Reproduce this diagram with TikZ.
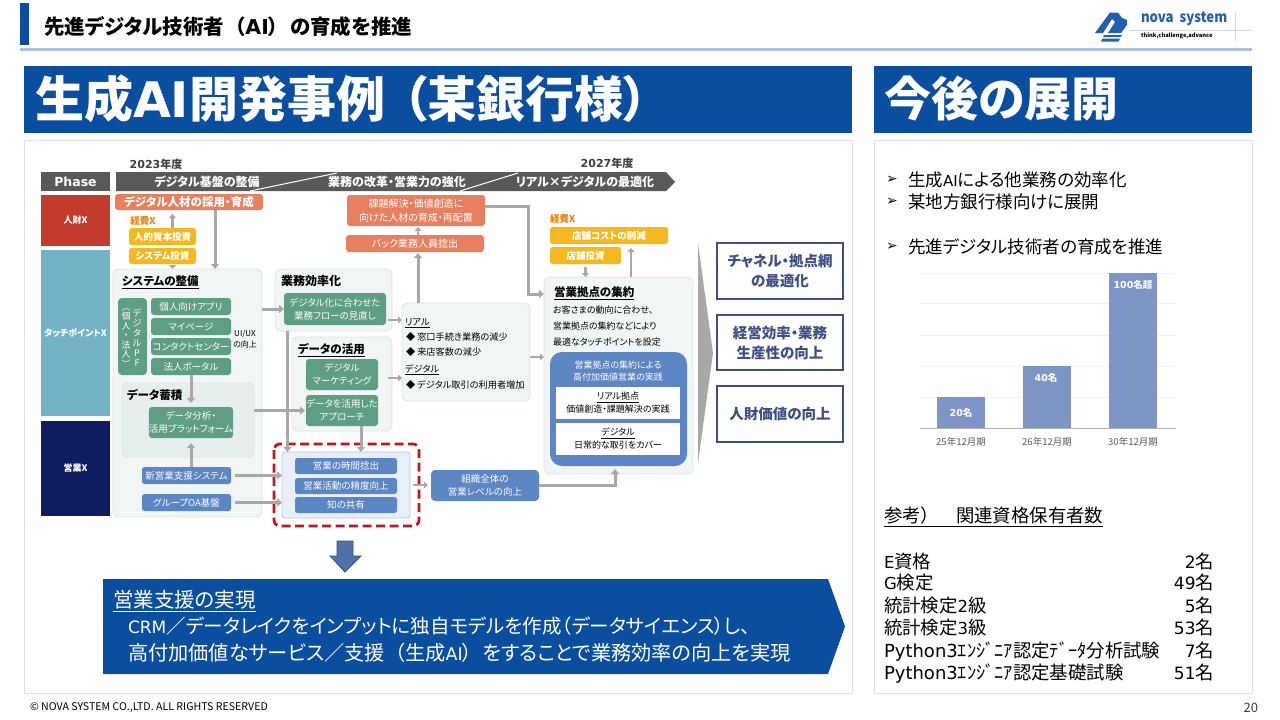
\documentclass[tikz,border=0pt]{standalone}
\usepackage{fontspec}
\usepackage{graphicx}
\setmainfont{Noto Sans CJK JP}[RawFeature=+palt]
\newfontfamily\djv{DejaVu Sans}
\usetikzlibrary{arrows.meta,calc}
\definecolor{cblue}{HTML}{0A4EA0}
\definecolor{cgreen}{HTML}{5E9E82}
\definecolor{corange}{HTML}{E8805F}
\definecolor{cyellow}{HTML}{F5B81F}
\definecolor{cmid}{HTML}{5C86C4}
\definecolor{cgray}{HTML}{A8A8A8}
\definecolor{cpanel}{HTML}{F1F5F4}
\definecolor{cpline}{HTML}{DCE5E3}
\definecolor{cnavy}{HTML}{3E4F84}
\definecolor{cbar}{HTML}{7F95C5}
\definecolor{cframe}{HTML}{DDE2EA}
\definecolor{cphr}{HTML}{C23B2C}
\definecolor{cpht}{HTML}{74B3C5}
\definecolor{cphn}{HTML}{0E1D60}
\definecolor{cchi}{HTML}{E6EFEC}
\definecolor{chl}{HTML}{E9EFF8}
\definecolor{chll}{HTML}{B8C8E0}
\definecolor{cdash}{HTML}{C0161E}
\newcommand\fs[1]{\fontsize{#1}{#1}\selectfont}
\newcommand\fl[2]{\fontsize{#1}{#2}\selectfont}
\newcommand\vp{\vphantom{Pg名}}
\tikzset{
 base/.style={inner sep=0pt,outer sep=0pt,align=center},
 panelbox/.style={base,fill=cpanel,draw=cpline,line width=.8pt,rounded corners=6pt},
 gbtn/.style={base,fill=cgreen,rounded corners=3pt,text=white,font=\fl{9.5}{13}},
 obtn/.style={base,fill=corange,rounded corners=3pt,text=white,font=\fl{10}{14}},
 ybtn/.style={base,fill=cyellow,rounded corners=2.5pt,text=white,font=\fs{9.5}\bfseries},
 bbtn/.style={base,fill=cmid,rounded corners=2.5pt,text=white,font=\fl{9.5}{13}},
 phasebox/.style={base,text=white,font=\fs{9}\bfseries},
 outcome/.style={base,draw=cnavy,line width=1.4pt,fill=white,text=cnavy,font=\fl{14.5}{20}\bfseries},
 conn/.style={draw=cgray,line width=3pt,-{Triangle[width=8pt,length=5pt]}},
 thinconn/.style={draw=cgray,line width=2.4pt,-{Triangle[width=7pt,length=4pt]}},
 frame/.style={base,fill=white,draw=cframe,line width=.8pt},
 titlebar/.style={base,fill=cblue},
}
\newcommand\bx[7][]{%
 \pgfmathsetmacro\bxc{(#3+#5)/2}\pgfmathsetmacro\byc{(#4+#6)/2}%
 \pgfmathsetmacro\bxw{#5-#3}\pgfmathsetmacro\byh{#6-#4}%
 \node[base,#1,minimum width=\bxw pt,minimum height=\byh pt] (#2) at (\bxc,\byc) {#7};}
\newcommand\tx[5][]{\node[base,anchor=west,#1] (#2) at (#3,#4) {#5};}
\begin{document}
\begin{tikzpicture}[x=1pt,y=-1pt]
\useasboundingbox (0,0) rectangle (1280,720);
\fill[white] (0,0) rectangle (1280,720);
% header
\fill[cblue] (20,3) rectangle (29,45);
\fill[cblue!35] (20,47.5) rectangle (1252,50.5);
\tx[font=\fs{20.5}\bfseries]{head}{44}{27}{先進デジタル技術者\hspace{11pt}（{\djv AI}）\hspace{11pt}の育成を推進}
% logo
\draw[gray!30,line width=.5pt] (1130,30) -- (1252,30) (1235,12) -- (1235,41);
\fill[cblue!90] (1095,33) -- (1110,12.5) -- (1118,12.5) -- (1122,18) -- (1127,20) -- (1127,25) -- (1121,33) -- (1108,33) -- (1115,22) -- (1112,19) -- (1103,33) -- cycle;
\fill[cblue!90] (1104,35) -- (1122,35) -- (1120.5,37) -- (1103,37) -- cycle (1102.5,38.5) -- (1120,38.5) -- (1118.5,41.5) -- (1101,41.5) -- cycle;
\tx[font=\fs{15}\bfseries,text=cblue!90]{logoa}{1141}{19}{\scalebox{.88}[1]{nova\ \ system}}
\tx[font=\fs{5.7}\bfseries]{logob}{1141}{36}{think,challenge,advance}
% title bars
\bx[titlebar]{bara}{24}{66}{852}{133}{}
\bx[titlebar]{barb}{874}{66}{1252}{133}{}
\tx[font=\fs{49}\bfseries,text=white]{titlea}{35}{99}{生成{\djv AI}開発事例\hspace{18pt}（某銀行様）}
\tx[font=\fs{47}\bfseries,text=white]{titleb}{884}{99}{今後の展開}
% frames
\bx[frame]{framea}{24}{140}{852}{693}{}
\bx[frame]{frameb}{874}{140}{1252}{693}{}
% phase column
\bx[fill=black!65,text=white,font=\fs{12.5}\bfseries\djv]{phase}{41}{172}{110}{191}{Phase}
\bx[phasebox,fill=cphr]{pa}{41}{195}{110}{246}{人財X}
\bx[phasebox,fill=cpht]{pb}{41}{250}{110}{416}{タッチポイントX}
\bx[phasebox,fill=cphn]{pc}{41}{421}{110}{516}{営業X}
% band
\fill[black!65] (116,172) -- (666,172) -- (675,182) -- (666,191) -- (116,191) -- cycle;
\draw[white,line width=1pt] (250,191) -- (337,173) (460,191) -- (518,173);
\tx[font=\fs{11}\bfseries,text=black!75,anchor=center]{ya}{156}{164}{{\djv 2023}年度}
\tx[font=\fs{11}\bfseries,text=black!75,anchor=center]{yb}{607}{163}{{\djv 2027}年度}
\tx[font=\fs{12}\bfseries,text=white,anchor=center]{ba}{207}{182}{デジタル基盤の整備}
\tx[font=\fs{12}\bfseries,text=white,anchor=center]{bb}{397}{182}{業務の改革・営業力の強化}
\tx[font=\fs{12}\bfseries,text=white,anchor=center]{bc}{585}{182}{リアル×デジタルの最適化}
% panels
\bx[panelbox]{sys}{113}{269}{262}{517}{}
\bx[panelbox]{gyo}{275}{269}{392}{331}{}
\bx[panelbox]{dat}{292}{337}{392}{431}{}
\bx[panelbox]{rea}{402}{303}{530}{401}{}
\bx[panelbox]{kyo}{544}{277}{693}{474}{}
\bx[panelbox,fill=cchi]{chi}{122}{383}{254}{457}{}
\tx[font=\fs{11.5}\bfseries]{tsys}{122}{282}{\underline{システムの整備}}
\tx[font=\fs{12}\bfseries]{tgyo}{281}{281}{業務効率化}
\tx[font=\fs{11.5}\bfseries]{tdat}{298}{350}{\underline{データの活用}}
\tx[font=\fs{11.5}\bfseries]{tchi}{127}{395}{データ蓄積}
\tx[font=\fs{11.5}\bfseries]{tkyo}{554}{293}{\underline{営業拠点の集約}}
% orange
\bx[obtn,font=\fs{11.5}\bfseries]{saiyo}{115}{194}{263}{210}{デジタル人材の採用・育成}
\bx[obtn]{kadai}{347}{195}{485}{226}{課題解決・価値創造に\\向けた人材の育成・再配置}
\bx[obtn]{back}{346}{235}{484}{252}{バック業務人員捻出}
% yellow
\tx[font=\fs{9.5}\bfseries,text=orange!80!brown,anchor=center]{kea}{143}{221}{経費X}
\bx[ybtn]{jin}{129}{228}{196}{245}{人的資本投資}
\bx[ybtn]{inv}{129}{248}{196}{264}{システム投資}
\tx[font=\fs{9.5}\bfseries,text=orange!80!brown]{keb}{550}{219}{経費X}
\bx[ybtn]{cost}{550}{227}{668}{244}{店舗コストの削減}
\bx[ybtn]{tinv}{550}{247}{621}{264}{店舗投資}
% green
\bx[fill=cgreen,rounded corners=4pt]{pf}{118}{298}{147}{375}{}
\tx[anchor=center,text=white,font=\fl{9}{10}]{pfa}{137}{338}{デ\\ジ\\タ\\ル\\P\\F}
\tx[anchor=center,text=white,font=\fl{9}{9.5}]{pfb}{126}{338}{︵\\個\\人\\・\\法\\人\\︶}
\bx[gbtn]{app}{151}{298}{231}{315}{個人向けアプリ}
\bx[gbtn]{myp}{151}{318}{231}{335}{マイページ}
\bx[gbtn]{ctc}{151}{338}{231}{355}{コンタクトセンター}
\bx[gbtn]{por}{151}{358}{231}{375}{法人ポータル}
\tx[anchor=center,font=\fl{8}{11}]{uiux}{245}{339.5}{UI/UX\\の向上}
\bx[gbtn]{plat}{151}{407}{231}{438}{データ分析・\\活用プラットフォーム}
\bx[gbtn]{flow}{284}{293}{386}{325}{デジタル化に合わせた\\業務フローの見直し}
\bx[gbtn]{mkt}{306}{359}{378}{390}{デジタル\\マーケティング}
\bx[gbtn]{app2}{306}{395}{378}{426}{データを活用した\\アプローチ}
% blue
\bx[bbtn]{sfa}{142}{467}{231}{484}{新営業支援システム}
\bx[bbtn]{oa}{142}{494}{231}{511}{グループOA基盤}
% sales highlight
\draw[cdash,line width=2.8pt,dash pattern=on 9pt off 4.5pt,rounded corners=6pt] (274,444) rectangle (419,526);
\bx[fill=chl,draw=chll,line width=.8pt,rounded corners=3pt]{hl}{282}{452}{410}{518}{}
\bx[bbtn]{s1}{295}{458}{397}{474}{営業の時間捻出}
\bx[bbtn]{s2}{295}{478}{397}{494}{営業活動の精度向上}
\bx[bbtn]{s3}{295}{497}{397}{513}{知の共有}
\bx[bbtn,rounded corners=4pt]{org}{431}{470}{539}{501}{組織全体の\\営業レベルの向上}
% real list
\tx[font=\fs{9.2}]{ra}{405}{323}{\underline{リアル}}
\tx[font=\fs{9.2}]{rb}{406}{337}{◆ 窓口手続き業務の減少}
\tx[font=\fs{9.2}]{rc}{406}{352}{◆ 来店客数の減少}
\tx[font=\fs{9.2}]{rd}{405}{370}{\underline{デジタル}}
\tx[font=\fs{9.2}]{re}{406}{385}{◆ デジタル取引の利用者増加}
% kyoten text
\tx[font=\fs{9}]{ka}{553}{310}{お客さまの動向に合わせ、}
\tx[font=\fs{9}]{kb}{553}{326}{営業拠点の集約などにより}
\tx[font=\fs{9}]{kc}{553}{342}{最適なタッチポイントを設定}
\bx[fill=cmid,rounded corners=12pt]{kblue}{550}{352}{687}{466}{}
\tx[anchor=center,text=white,font=\fl{9}{12.5}]{kt}{618}{371}{営業拠点の集約による\\高付加価値営業の実践}
\bx[fill=white,font=\fl{9}{13}]{w1}{556}{387}{680}{419}{\underline{リアル拠点}\\価値創造・課題解決の実践}
\bx[fill=white,font=\fl{9}{13}]{w2}{556}{423}{680}{455}{\underline{デジタル}\\日常的な取引をカバー}
% outcomes
\fill[cgray] (698,243) -- (713,353) -- (698,463) -- cycle;
\bx[outcome]{o1}{717}{243}{843}{299}{チャネル・拠点網\\の最適化}
\bx[outcome]{o2}{717}{315}{843}{370}{経営効率・業務\\生産性の向上}
\bx[outcome]{o3}{717}{386}{843}{442}{人財価値の向上}
% connectors
\draw[thinconn] ([xshift=10pt]jin.north) -- ([xshift=10pt,yshift=-4pt]jin.north |- saiyo.south);
\draw[thinconn] ([xshift=10pt,yshift=-3pt]inv.south) -- ([xshift=10pt]inv.south |- sys.north);
\draw[conn] ([xshift=26pt]saiyo.south) -- ([xshift=26pt]saiyo.south |- sys.north);
\draw[conn] (sys.east |- flow) -- (flow.west);
\draw[conn] ([xshift=-46pt]gyo.south) -- ([xshift=-46pt]gyo.south |- hl.north);
\draw[conn] (por.south) -- ([yshift=4pt]plat.north);
\draw[conn] (sfa.north -| plat) -- ([yshift=-5pt]plat.south);
\draw[conn] ([xshift=4pt]sfa.east) -- (sfa.east -| hl.west);
\draw[conn] ([xshift=4pt]oa.east) -- (oa.east -| hl.west);
\draw[conn] (chi.east |- app2) -- ([xshift=-1pt]app2.west);
\draw[conn] ([xshift=19pt]app2.south) -- ([xshift=19pt]app2.south |- hl.north);
\draw[thinconn] ([xshift=2pt,yshift=5pt]flow.south east) -- ([yshift=-17pt]rea.north west);
\draw[thinconn] ([xshift=-4pt,yshift=6pt]dat.east) -- ([yshift=6pt]dat.east -| rea.west);
\draw[conn] ([xshift=16pt]rea.north west) -- ([xshift=16pt,yshift=-1pt]rea.north west |- back.south);
\draw[thinconn] ([xshift=16pt]rea.north west |- back.north) -- ([xshift=16pt,yshift=-1pt]rea.north west |- kadai.south);
\draw[conn] ([yshift=4.5pt]kadai.east) -| ([xshift=-16pt,yshift=-17pt]kyo.north west) -- ([yshift=-17pt]kyo.north west);
\draw[thinconn] (rea.east |- 0,357) -- (kyo.west |- 0,357);
\draw[thinconn] ([yshift=-3pt]tinv.south) -- (tinv.south |- kyo.north);
\draw[thinconn] ([xshift=87pt]kyo.north west) -- ([xshift=87pt,yshift=-4pt]kyo.north west |- cost.south);
\draw[thinconn] ([xshift=3pt]hl.east) -- ([xshift=-3pt]hl.east -| org.west);
\draw[conn] (org.east) -| ([xshift=71pt,yshift=5pt]kyo.south west);
% down arrow + callout
\fill[cmid!85!black,draw=cnavy,line width=.8pt] (337,541) -- (353,541) -- (353,556) -- (361,556) -- (345,572) -- (330,556) -- (337,556) -- cycle;
\fill[cblue] (103,579) -- (828,579) -- (845,626.5) -- (828,674) -- (103,674) -- cycle;
\tx[font=\fs{20.5},text=white]{ca}{113}{601}{\underline{営業支援の実現}}
\tx[font=\fs{19.5},text=white]{cb}{128}{626}{{\djv\fs{17}CRM}／データレイクをインプットに独自モデルを作成（データサイエンス）し、}
\tx[font=\fs{20.2},text=white]{cc}{128}{653}{高付加価値なサービス／支援\hspace{10pt}（生成{\djv\fs{17.5}AI}）\hspace{10pt}をすることで業務効率の向上を実現}
% right text
\tx[font=\fs{17.5}]{r1}{908}{180}{生成{\djv\fs{15}AI}による他業務の効率化}
\tx[font=\fs{17.5}]{r2}{908}{202}{某地方銀行様向けに展開}
\tx[font=\fs{17.5}]{r3}{908}{247}{先進デジタル技術者の育成を推進}
\tx[font=\fs{14}\djv]{m1}{886}{180}{➢}
\tx[font=\fs{14}\djv]{m2}{886}{202}{➢}
\tx[font=\fs{14}\djv]{m3}{886}{247}{➢}
% chart
\draw[gray!10,line width=.5pt] (920,273) -- (1176,273) (920,303) -- (1176,303) (920,335) -- (1176,335) (920,366) -- (1176,366) (920,397) -- (1176,397);
\bx[fill=cbar,text=white,font=\fs{9.5}\bfseries]{b1}{937}{397}{985}{428}{{\djv 20}名}
\bx[fill=cbar]{b2}{1023}{366}{1071}{428}{}
\bx[fill=cbar]{b3}{1109}{273}{1157}{428}{}
\tx[anchor=center,text=white,font=\fs{9.5}\bfseries]{l2}{1046}{378}{{\djv 40}名}
\tx[anchor=center,text=white,font=\fs{9.5}\bfseries]{l3}{1133}{285}{{\djv 100}名超}
\draw[gray!60,line width=.7pt] (920,428) -- (1176,428);
\tx[anchor=center,text=black!65,font=\fs{9.5}]{a1}{961}{442}{25年12月期}
\tx[anchor=center,text=black!65,font=\fs{9.5}]{a2}{1047}{442}{26年12月期}
\tx[anchor=center,text=black!65,font=\fs{9.5}]{a3}{1133}{442}{30年12月期}
% reference list
\tx[font=\fs{18.4}]{refh}{884}{517}{\underline{参考）\hspace{26pt}関連資格保有者数}}
\tx[font=\fs{18.4}]{q1}{884}{563}{\vp{\djv\fs{16.5}E}資格}
\tx[font=\fs{18.4}]{q2}{884}{584}{\vp{\djv\fs{16.5}G}検定}
\tx[font=\fs{18.4}]{q3}{884}{607}{\vp 統計検定{\djv\fs{16.5}2}級}
\tx[font=\fs{18.4}]{q4}{884}{629}{\vp 統計検定{\djv\fs{16.5}3}級}
\tx[font=\fs{18.4}]{q5}{884}{652}{\vp{\djv\fs{18}Python3}ｴﾝｼﾞﾆｱ認定ﾃﾞｰﾀ分析試験}
\tx[font=\fs{18.4}]{q6}{884}{674}{\vp{\djv\fs{18}Python3}ｴﾝｼﾞﾆｱ認定基礎試験}
\tx[font=\fs{18.4},anchor=east]{n1}{1214}{563}{\vp{\djv\fs{17}2}名}
\tx[font=\fs{18.4},anchor=east]{n2}{1214}{584}{\vp{\djv\fs{17}49}名}
\tx[font=\fs{18.4},anchor=east]{n3}{1214}{607}{\vp{\djv\fs{17}5}名}
\tx[font=\fs{18.4},anchor=east]{n4}{1214}{629}{\vp{\djv\fs{17}53}名}
\tx[font=\fs{18.4},anchor=east]{n5}{1214}{652}{\vp{\djv\fs{17}7}名}
\tx[font=\fs{18.4},anchor=east]{n6}{1214}{674}{\vp{\djv\fs{17}51}名}
% footer
\tx[font=\fs{10.6}]{foot}{30}{708}{© NOVA SYSTEM CO.,LTD. ALL RIGHTS RESERVED}
\tx[font=\fs{13},anchor=east,text=black!75]{pg}{1258}{708}{20}
\end{tikzpicture}
\end{document}
